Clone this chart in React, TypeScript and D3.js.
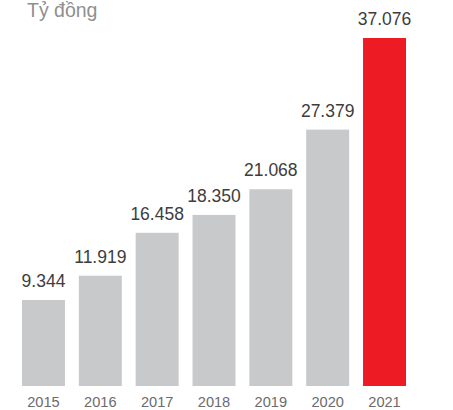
import React from "react";
import * as d3 from "d3";

const years = ["2015", "2016", "2017", "2018", "2019", "2020", "2021"];
const values = [9344, 11919, 16458, 18350, 21068, 27379, 37076];
const valueLabels = ["9.344", "11.919", "16.458", "18.350", "21.068", "27.379", "37.076"];
const unitLabel = "Tỷ đồng";

const W = 453;
const H = 410;

export default function App() {
  const x = d3.scaleBand<string>().domain(years).range([22, 406]).paddingInner(0.244).paddingOuter(0);
  const y = d3.scaleLinear().domain([243, 37076]).range([386, 38]);
  const font = "'Liberation Sans', Arial, Helvetica, sans-serif";
  return (
    <svg width={W} height={H} style={{ position: "absolute", left: 0, top: 0, background: "#fff" }} fontFamily={font}>
      <text x={27} y={17} fontSize={19.5} fill="#8f8f8f">{unitLabel}</text>
      {years.map((yr, i) => {
        const bx = x(yr)!;
        const bw = x.bandwidth();
        const top = y(values[i]);
        const last = i === years.length - 1;
        return (
          <g key={yr}>
            <rect x={bx} y={top} width={bw} height={386 - top} fill={last ? "#ed1c24" : "#c8c9cb"} />
            <text x={bx + bw / 2} y={top - 13} textAnchor="middle" fontSize={17.5} fill="#3d3d3d">{valueLabels[i]}</text>
            <text x={bx + bw / 2} y={407} textAnchor="middle" fontSize={14.6} fill="#6b6b6b">{yr}</text>
          </g>
        );
      })}
    </svg>
  );
}
